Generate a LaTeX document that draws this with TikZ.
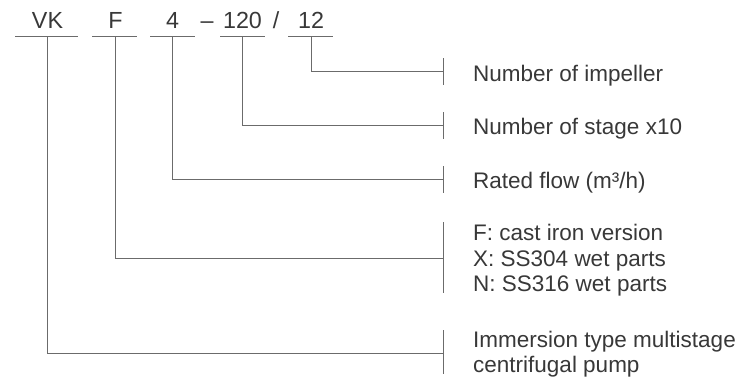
\documentclass[tikz,border=0pt]{standalone}
\usepackage{fontspec}
\setmainfont{Liberation Sans}
\begin{document}
\begin{tikzpicture}[x=1pt,y=-1pt,
  ln/.style={draw=black!58,line width=0.8pt},
  code/.style={inner sep=0pt,anchor=base,text=black!78,font=\fontsize{23.3}{26}\selectfont},
  desc/.style={inner sep=0pt,anchor=base west,text=black!78,font=\fontsize{22.5}{26}\selectfont}]
\useasboundingbox (0,0) rectangle (743,383);
% code letters
\node[code] (cVK) at (47.5,28.3) {VK};
\node[code] (cF) at (115.5,28.3) {F};
\node[code] (c4) at (172.5,28.3) {4};
\node[code] (cdash) at (207,28.3) {–};
\node[code] (c120) at (242.5,28.3) {120};
\node[code] (cslash) at (276,28.3) {/};
\node[code] (c12) at (311,28.3) {12};
% underlines
\draw[ln] (15,36.7) -- (78,36.7);
\draw[ln] (92,36.7) -- (137,36.7);
\draw[ln] (150,36.7) -- (195,36.7);
\draw[ln] (220,36.7) -- (265,36.7);
\draw[ln] (288,36.7) -- (333,36.7);
% start points on underlines
\coordinate (uVK) at (47,36.7);
\coordinate (uF) at (115,36.7);
\coordinate (u4) at (172.5,36.7);
\coordinate (u120) at (242,36.7);
\coordinate (u12) at (311.5,36.7);
% tick points
\coordinate (t12) at (443,71.5);
\coordinate (t120) at (443,125.5);
\coordinate (t4) at (443,179.5);
\coordinate (tF) at (443,258);
\coordinate (tVK) at (443,353);
% connectors
\draw[ln] (u12) |- (t12);
\draw[ln] (u120) |- (t120);
\draw[ln] (u4) |- (t4);
\draw[ln] (uF) |- (tF);
\draw[ln] (uVK) |- (tVK);
% ticks
\draw[ln] (443,58) -- (443,85);
\draw[ln] (443,112) -- (443,139);
\draw[ln] (443,166) -- (443,193);
\draw[ln] (443,222) -- (443,293);
\draw[ln] (443,330) -- (443,374);
% descriptions
\node[desc] (d12) at (473,81) {Number of impeller};
\node[desc] (d120) at (473,134) {Number of stage x10};
\node[desc] (d4) at (473,188) {Rated flow (m³/h)};
\node[desc] (dF1) at (473,240) {F: cast iron version};
\node[desc] (dF2) at (473,266) {X: SS304 wet parts};
\node[desc] (dF3) at (473,291) {N: SS316 wet parts};
\node[desc] (dVK1) at (473,347) {Immersion type multistage};
\node[desc] (dVK2) at (473,372) {centrifugal pump};
\end{tikzpicture}
\end{document}
